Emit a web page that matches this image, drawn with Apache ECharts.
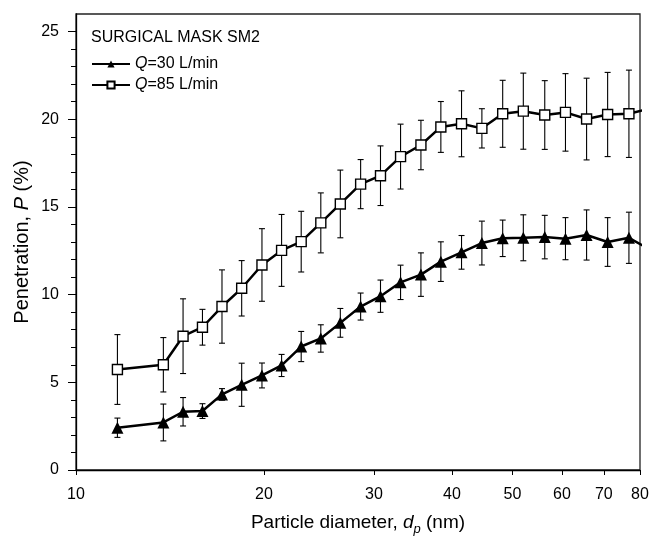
<!DOCTYPE html>
<html>
<head>
<meta charset="utf-8">
<script src="https://cdn.jsdelivr.net/npm/echarts@6/dist/echarts.min.js"></script>
<style>
  html, body { margin: 0; padding: 0; background: #fff; }
  #chart { width: 649px; height: 536px; }
</style>
</head>
<body>
<div id="chart"></div>
<script>
// Particle diameter (nm)
const diameters = [11.65, 13.80, 14.84, 15.94, 17.13, 18.42, 19.85, 21.34, 22.94, 24.66, 26.5, 28.56, 30.73, 33.09, 35.67, 38.39, 41.43, 44.66, 48.22, 52.03, 56.31, 60.78, 65.7, 71.0, 76.8, 82.7];
// Penetration (%) at Q = 30 L/min and its error (±)
const pen30 = [2.41, 2.71, 3.32, 3.36, 4.31, 4.86, 5.39, 5.96, 7.04, 7.50, 8.39, 9.32, 9.91, 10.70, 11.14, 11.88, 12.41, 12.94, 13.21, 13.24, 13.28, 13.19, 13.40, 13.00, 13.24, 12.6];
const err30 = [0.55, 1.05, 0.81, 0.42, 0.33, 1.23, 0.71, 0.63, 0.86, 0.78, 0.82, 0.77, 0.92, 0.98, 1.24, 1.13, 0.96, 1.25, 1.04, 1.31, 1.24, 1.20, 1.43, 1.39, 1.46, 1.5];
// Penetration (%) at Q = 85 L/min and its error (±)
const pen85 = [5.73, 6.00, 7.63, 8.14, 9.32, 10.36, 11.69, 12.52, 13.02, 14.09, 15.17, 16.30, 16.78, 17.87, 18.53, 19.56, 19.74, 19.48, 20.31, 20.46, 20.24, 20.39, 20.01, 20.27, 20.31, 20.6];
const err85 = [1.99, 1.55, 2.13, 1.02, 2.09, 1.58, 2.07, 2.05, 1.73, 1.71, 1.93, 1.40, 1.70, 1.85, 1.41, 1.45, 1.88, 1.12, 1.91, 2.17, 1.96, 2.21, 2.33, 2.40, 2.49, 2.5];
// Axis ticks
const xTicks = [10, 20, 30, 40, 50, 60, 70, 80];
const yTicks = [0, 5, 10, 15, 20, 25];

const FONT = "'Liberation Sans', Arial, sans-serif";
const name30 = 'Q=30 L/min';
const name85 = 'Q=85 L/min';

function pts(vals) { return diameters.map((d, i) => [d, vals[i]]); }
function errs(vals, e) { return diameters.map((d, i) => [d, vals[i] - e[i], vals[i] + e[i]]); }

function renderErr(params, api) {
  const x = api.value(0);
  const lo = api.coord([x, api.value(1)]);
  const hi = api.coord([x, api.value(2)]);
  const w = 3;
  const st = { stroke: '#000', lineWidth: 1.1 };
  return {
    type: 'group',
    children: [
      { type: 'line', shape: { x1: lo[0], y1: lo[1], x2: hi[0], y2: hi[1] }, style: st },
      { type: 'line', shape: { x1: hi[0] - w, y1: hi[1], x2: hi[0] + w, y2: hi[1] }, style: st },
      { type: 'line', shape: { x1: lo[0] - w, y1: lo[1], x2: lo[0] + w, y2: lo[1] }, style: st }
    ]
  };
}

const chart = echarts.init(document.getElementById('chart'), null, { renderer: 'canvas' });
chart.setOption({
  animation: false,
  backgroundColor: '#fff',
  textStyle: { fontFamily: FONT, color: '#000' },
  title: {
    text: 'SURGICAL MASK SM2',
    left: 91, top: 30, padding: 0,
    textStyle: { fontFamily: FONT, fontSize: 16, fontWeight: 'normal', color: '#000' }
  },
  legend: {
    orient: 'vertical',
    left: 91, top: 56, padding: 0,
    itemWidth: 38, itemHeight: 9, itemGap: 5,
    data: [name30, name85],
    formatter: function (n) { return '{i|Q}{n|' + n.slice(1) + '}'; },
    textStyle: {
      fontFamily: FONT, fontSize: 16, color: '#000', lineHeight: 16,
      rich: {
        i: { fontFamily: FONT, fontSize: 16, fontStyle: 'italic', color: '#000' },
        n: { fontFamily: FONT, fontSize: 16, color: '#000' }
      }
    }
  },
  grid: {
    left: 76, right: 9, top: 14, bottom: 66,
    outerBoundsMode: 'none', containLabel: false,
    show: true, borderColor: '#222', borderWidth: 1.3, backgroundColor: 'transparent'
  },
  xAxis: {
    type: 'log', logBase: 10, min: 10, max: 80,
    name: '{n|Particle diameter, }{i|d}{s|p}{n| (nm)}',
    nameLocation: 'middle', nameGap: 40, nameMoveOverlap: false,
    nameTextStyle: {
      rich: {
        n: { fontFamily: FONT, fontSize: 19, color: '#000', lineHeight: 26 },
        i: { fontFamily: FONT, fontSize: 19, fontStyle: 'italic', color: '#000', lineHeight: 26 },
        s: { fontFamily: FONT, fontSize: 13, fontStyle: 'italic', color: '#000', lineHeight: 14, verticalAlign: 'bottom' }
      }
    },
    axisLine: { show: true, lineStyle: { color: '#000', width: 1.3 } },
    axisTick: { show: true, inside: false, length: 5, customValues: xTicks, lineStyle: { color: '#000', width: 1 } },
    minorTick: { show: false },
    axisLabel: { customValues: xTicks, fontFamily: FONT, fontSize: 16, color: '#000', margin: 17, formatter: v => String(Math.round(v)) },
    splitLine: { show: false },
    minorSplitLine: { show: false }
  },
  yAxis: {
    type: 'value', min: 0, max: 26, interval: 5,
    name: '{n|Penetration, }{i|P}{n| (%)}',
    nameLocation: 'middle', nameGap: 44, nameMoveOverlap: false,
    nameTextStyle: {
      rich: {
        n: { fontFamily: FONT, fontSize: 20, color: '#000' },
        i: { fontFamily: FONT, fontSize: 20, fontStyle: 'italic', color: '#000' }
      }
    },
    axisLine: { show: true, lineStyle: { color: '#000', width: 1.3 } },
    axisTick: { show: true, inside: false, length: 8, customValues: yTicks, lineStyle: { color: '#000', width: 1 } },
    minorTick: { show: true, splitNumber: 5, length: 5, lineStyle: { color: '#000', width: 1 } },
    axisLabel: { customValues: yTicks, fontFamily: FONT, fontSize: 16, color: '#000', margin: 17 },
    splitLine: { show: false }
  },
  series: [
    {
      type: 'custom', name: 'err30', renderItem: renderErr, data: errs(pen30, err30),
      clip: true, z: 1, silent: true, encode: { x: 0, y: [1, 2] }
    },
    {
      type: 'custom', name: 'err85', renderItem: renderErr, data: errs(pen85, err85),
      clip: true, z: 1, silent: true, encode: { x: 0, y: [1, 2] }
    },
    {
      type: 'line', name: name30, data: pts(pen30), clip: true, z: 3,
      symbol: 'triangle', symbolSize: 12, showAllSymbol: true,
      lineStyle: { color: '#000', width: 2.5 },
      itemStyle: { color: '#000', borderColor: '#000', borderWidth: 0 }
    },
    {
      type: 'line', name: name85, data: pts(pen85), clip: true, z: 3,
      symbol: 'rect', symbolSize: 10, showAllSymbol: true,
      lineStyle: { color: '#000', width: 2.5 },
      itemStyle: { color: '#fff', borderColor: '#000', borderWidth: 1.4 }
    }
  ]
});
</script>
</body>
</html>
